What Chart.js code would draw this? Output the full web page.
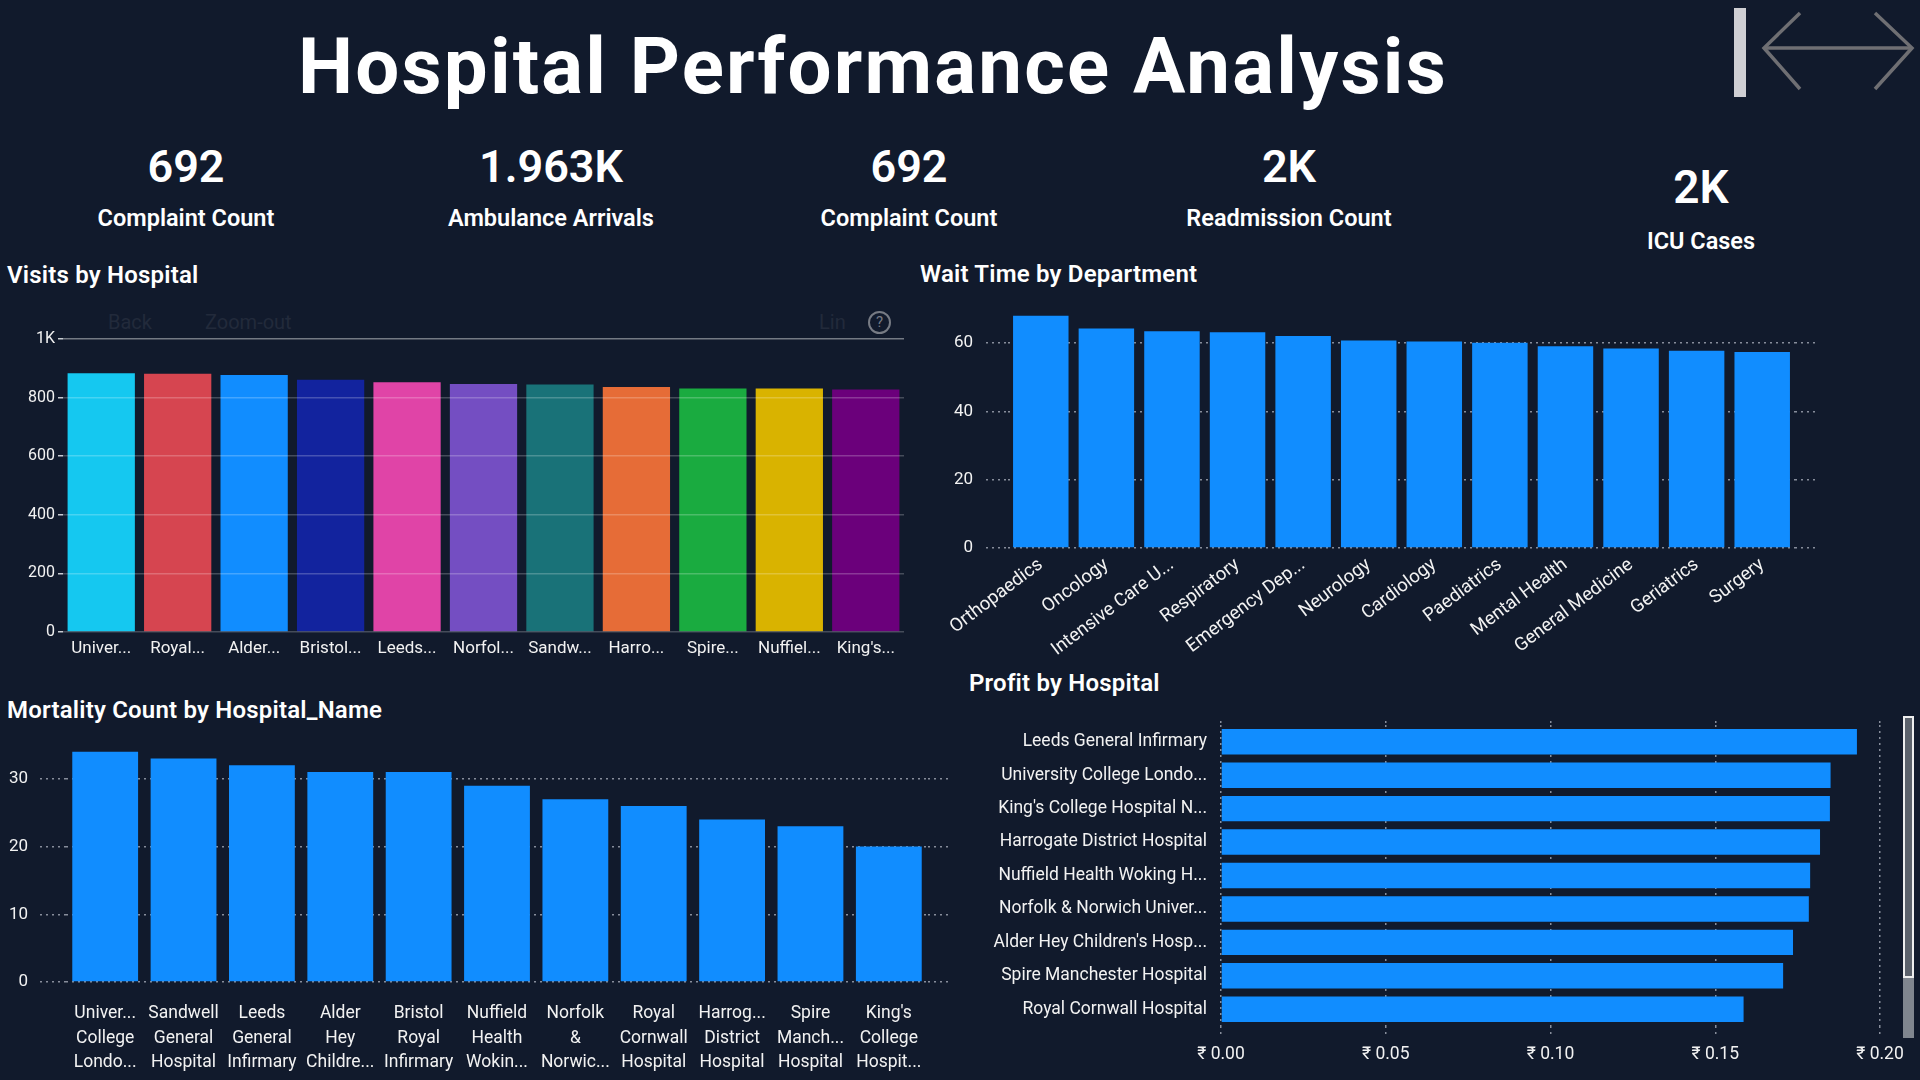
<!DOCTYPE html>
<html>
<head>
<meta charset="utf-8">
<title>Hospital Performance Analysis</title>
<script src="https://cdn.jsdelivr.net/npm/chart.js"></script>
<style>
  body { margin: 0; width: 1920px; height: 1080px; overflow: hidden; position: relative;
         background: #111a2c; color: #fff; font-family: Roboto, "Noto Sans", sans-serif; }
  .abs { position: absolute; white-space: nowrap; }
  .title { left: 173px; width: 1400px; top: 28px; text-align: center; font-size: 78px; line-height: 78px; font-weight: 700; letter-spacing: 2.2px; }
  .kpi-num { width: 300px; text-align: center; font-size: 45px; line-height: 45px; font-weight: 600; top: 144px; }
  .kpi-lbl { width: 300px; text-align: center; font-size: 23.5px; line-height: 23.5px; font-weight: 600; top: 207px; }
  .sec { font-size: 24px; line-height: 24px; font-weight: 600; letter-spacing: 0.2px; }
  .box { position: absolute; }
  .faint { color: #222a3b; font-size: 20px; line-height: 20px; top: 312px; }
</style>
</head>
<body>

<div class="abs title">Hospital Performance Analysis</div>

<svg class="abs" style="left:1720px;top:0" width="200" height="110">
  <rect x="14" y="8" width="12" height="89" fill="#cfcfd3"/>
  <g stroke="#6f6f73" stroke-width="3.5" fill="none">
    <line x1="44" y1="48" x2="192" y2="48"/>
    <polyline points="80,13 44,48 80,89"/>
    <polyline points="155,13 192,48 155,89"/>
  </g>
</svg>

<div class="abs kpi-num" style="left:36px">692</div>
<div class="abs kpi-lbl" style="left:36px">Complaint Count</div>
<div class="abs kpi-num" style="left:401px">1.963K</div>
<div class="abs kpi-lbl" style="left:401px">Ambulance Arrivals</div>
<div class="abs kpi-num" style="left:759px">692</div>
<div class="abs kpi-lbl" style="left:759px">Complaint Count</div>
<div class="abs kpi-num" style="left:1139px">2K</div>
<div class="abs kpi-lbl" style="left:1139px">Readmission Count</div>
<div class="abs kpi-num" style="left:1551px;top:164px;font-size:46px;line-height:46px">2K</div>
<div class="abs kpi-lbl" style="left:1551px;top:230px">ICU Cases</div>

<div class="abs sec" style="left:7px;top:263px">Visits by Hospital</div>
<div class="abs sec" style="left:920px;top:262px">Wait Time by Department</div>
<div class="abs sec" style="left:7px;top:698px">Mortality Count by Hospital_Name</div>
<div class="abs sec" style="left:969px;top:671px">Profit by Hospital</div>

<div class="abs faint" style="left:108px">Back</div>
<div class="abs faint" style="left:205px">Zoom-out</div>
<div class="abs faint" style="left:819px">Lin</div>
<div class="abs" style="left:868px;top:311px;width:19px;height:19px;border:2px solid #777b84;border-radius:50%;color:#777b84;font-size:15px;line-height:19px;text-align:center">?</div>

<div class="box" style="left:0;top:320px;width:910px;height:340px"><canvas id="visits_chart"></canvas></div>
<div class="box" style="left:940px;top:300px;width:880px;height:360px"><canvas id="wait_chart"></canvas></div>
<div class="box" style="left:0;top:730px;width:960px;height:350px"><canvas id="mortality_chart"></canvas></div>
<div class="box" style="left:960px;top:700px;width:960px;height:380px"><canvas id="profit_chart"></canvas></div>

<div class="box" style="left:1903px;top:716px;width:11px;height:322px;background:#80868f"></div>
<div class="box" style="left:1903px;top:716px;width:7px;height:258px;background:#5c626c;border:2px solid #eeeeee"></div>

<script>
// data
var visitHospitals = ["Univer...", "Royal...", "Alder...", "Bristol...", "Leeds...", "Norfol...", "Sandw...", "Harro...", "Spire...", "Nuffiel...", "King's..."];
var visitCounts = [883, 881, 877, 861, 852, 846, 845, 836, 831, 831, 828];
var visitTicks = [0, 200, 400, 600, 800, 1000];

var departments = ["Orthopaedics", "Oncology", "Intensive Care U...", "Respiratory", "Emergency Dep...", "Neurology", "Cardiology", "Paediatrics", "Mental Health", "General Medicine", "Geriatrics", "Surgery"];
var waitTimes = [68.0, 64.3, 63.5, 63.2, 62.1, 60.8, 60.5, 60.1, 59.1, 58.4, 57.8, 57.4];

var mortalityHospitals = [
    ["Univer...", "College", "Londo..."],
    ["Sandwell", "General", "Hospital"],
    ["Leeds", "General", "Infirmary"],
    ["Alder", "Hey", "Childre..."],
    ["Bristol", "Royal", "Infirmary"],
    ["Nuffield", "Health", "Wokin..."],
    ["Norfolk", "&", "Norwic..."],
    ["Royal", "Cornwall", "Hospital"],
    ["Harrog...", "District", "Hospital"],
    ["Spire", "Manch...", "Hospital"],
    ["King's", "College", "Hospit..."]
];
var mortalityCounts = [34, 33, 32, 31, 31, 29, 27, 26, 24, 23, 20];

var profitHospitals = ["Leeds General Infirmary", "University College Londo...", "King's College Hospital N...", "Harrogate District Hospital", "Nuffield Health Woking H...", "Norfolk & Norwich Univer...", "Alder Hey Children's Hosp...", "Spire Manchester Hospital", "Royal Cornwall Hospital"];
var profitValues = [0.193, 0.185, 0.1848, 0.1818, 0.1788, 0.1784, 0.1736, 0.1706, 0.1586];

// power bi default palette
var palette = ['#15C8F0', '#D64550', '#118DFF', '#12239E', '#E044A7', '#744EC2', '#197278', '#E66C37', '#1AAB40', '#D9B300', '#6B007B'];
var blue = '#118DFF';
var dots = 'rgba(175,180,192,0.75)';

Chart.defaults.font.family = "Roboto, 'Noto Sans', sans-serif";
Chart.defaults.color = '#f2f2f2';
Chart.defaults.animation = false;
Chart.defaults.plugins.legend.display = false;

// pin the value axis width and drop the label overhang padding
function yFit(w) {
    return function(s) { s.width = w; s.paddingTop = 0; s.paddingBottom = 0; };
}

// Visits by Hospital
var ctx1 = document.getElementById("visits_chart");
new Chart(ctx1, {
    type: 'bar',
    data: {
        labels: visitHospitals,
        datasets: [{ data: visitCounts, backgroundColor: palette, categoryPercentage: 1, barPercentage: 0.88 }]
    },
    options: {
        responsive: true,
        maintainAspectRatio: false,
        layout: { padding: { top: 19, right: 6, left: 0, bottom: 0 } },
        scales: {
            x: {
                grid: { display: false, drawTicks: false }, border: { display: false },
                ticks: { font: { size: 17 }, padding: 6.5, maxRotation: 0, autoSkip: false },
                afterFit: function(s) { s.height = 28; }
            },
            y: {
                min: visitTicks[0], max: visitTicks[visitTicks.length - 1],
                grid: {
                    z: 1, lineWidth: 1.5, tickLength: 5, tickColor: '#c9ccd2',
                    color: function(c) { return c.tick && c.tick.value === 1000 ? 'rgba(255,255,255,0.42)' : 'rgba(255,255,255,0.22)'; }
                },
                border: { display: false },
                afterBuildTicks: function(s) { s.ticks = visitTicks.map(function(v) { return { value: v }; }); },
                ticks: {
                    padding: 3, font: { size: 16 },
                    callback: function(v) { return v >= 1000 ? (v / 1000) + 'K' : v; }
                },
                afterFit: yFit(63)
            }
        }
    }
});

// Wait Time by Department
var ctx2 = document.getElementById("wait_chart");
new Chart(ctx2, {
    type: 'bar',
    data: {
        labels: departments,
        datasets: [{ data: waitTimes, backgroundColor: blue, categoryPercentage: 1, barPercentage: 0.846 }]
    },
    options: {
        responsive: true,
        maintainAspectRatio: false,
        layout: { padding: { top: 9, right: 5, left: 0, bottom: 0 } },
        scales: {
            x: {
                grid: { display: false, drawTicks: false }, border: { display: false },
                ticks: { font: { size: 18.5 }, padding: 6, minRotation: 37, maxRotation: 37, autoSkip: false },
                afterFit: function(s) { s.height = 112; }
            },
            y: {
                min: 0, max: 70,
                grid: { color: dots, tickColor: dots, lineWidth: 1.5, tickLength: 22, tickBorderDash: [2, 4] },
                border: { display: false, dash: [2, 4] },
                ticks: { stepSize: 20, includeBounds: false, padding: 13, font: { size: 17 } },
                afterFit: yFit(68)
            },
            y2: {
                position: 'right', min: 0, max: 70,
                grid: { drawOnChartArea: false, tickColor: dots, lineWidth: 1.5, tickLength: 20, tickBorderDash: [2, 4] },
                border: { display: false },
                ticks: { display: false, stepSize: 20, includeBounds: false },
                afterFit: yFit(20)
            }
        }
    }
});

// Mortality Count by Hospital_Name
var ctx3 = document.getElementById("mortality_chart");
new Chart(ctx3, {
    type: 'bar',
    data: {
        labels: mortalityHospitals,
        datasets: [{ data: mortalityCounts, backgroundColor: blue, categoryPercentage: 1, barPercentage: 0.84 }]
    },
    options: {
        responsive: true,
        maintainAspectRatio: false,
        layout: { padding: { top: 15, right: 8, left: 0, bottom: 0 } },
        scales: {
            x: {
                grid: { display: false, drawTicks: false }, border: { display: false },
                ticks: { font: { size: 17.5, lineHeight: 1.4 }, padding: 19.5, maxRotation: 0, autoSkip: false },
                afterFit: function(s) { s.height = 98; }
            },
            y: {
                min: 0, max: 35,
                grid: { color: dots, tickColor: dots, lineWidth: 1.5, tickLength: 26, tickBorderDash: [2, 4] },
                border: { display: false, dash: [2, 4] },
                ticks: { stepSize: 10, includeBounds: false, padding: 12, font: { size: 17 } },
                afterFit: yFit(66)
            },
            y2: {
                position: 'right', min: 0, max: 35,
                grid: { drawOnChartArea: false, tickColor: dots, lineWidth: 1.5, tickLength: 24, tickBorderDash: [2, 4] },
                border: { display: false },
                ticks: { display: false, stepSize: 10, includeBounds: false },
                afterFit: yFit(24)
            }
        }
    }
});

// Profit by Hospital
var ctx4 = document.getElementById("profit_chart");
new Chart(ctx4, {
    type: 'bar',
    data: {
        labels: profitHospitals,
        datasets: [{ data: profitValues, backgroundColor: blue, categoryPercentage: 1, barPercentage: 0.76 }]
    },
    options: {
        indexAxis: 'y',
        responsive: true,
        maintainAspectRatio: false,
        layout: { padding: { top: 21, right: 40, left: 0, bottom: 0 } },
        scales: {
            y: {
                grid: { display: false, drawTicks: false }, border: { display: false },
                ticks: { font: { size: 17.5 }, padding: 14, autoSkip: false },
                afterFit: function(s) { s.width = 261; }
            },
            x: {
                min: 0, max: 0.2,
                grid: { color: dots, tickColor: dots, lineWidth: 1.5, tickLength: 12, tickBorderDash: [2, 4] },
                border: { display: false, dash: [2, 4] },
                ticks: {
                    stepSize: 0.05, padding: 6, font: { size: 17.5 },
                    callback: function(v) { return '\u20B9 ' + v.toFixed(2); }
                },
                afterFit: function(s) { s.height = 54; }
            },
            x2: {
                position: 'top', min: 0, max: 0.2,
                grid: { drawOnChartArea: false, tickColor: dots, lineWidth: 1.5, tickLength: 4, tickBorderDash: [2, 4] },
                border: { display: false },
                ticks: { display: false, stepSize: 0.05 },
                afterFit: function(s) { s.height = 4; }
            }
        }
    }
});
</script>
</body>
</html>
